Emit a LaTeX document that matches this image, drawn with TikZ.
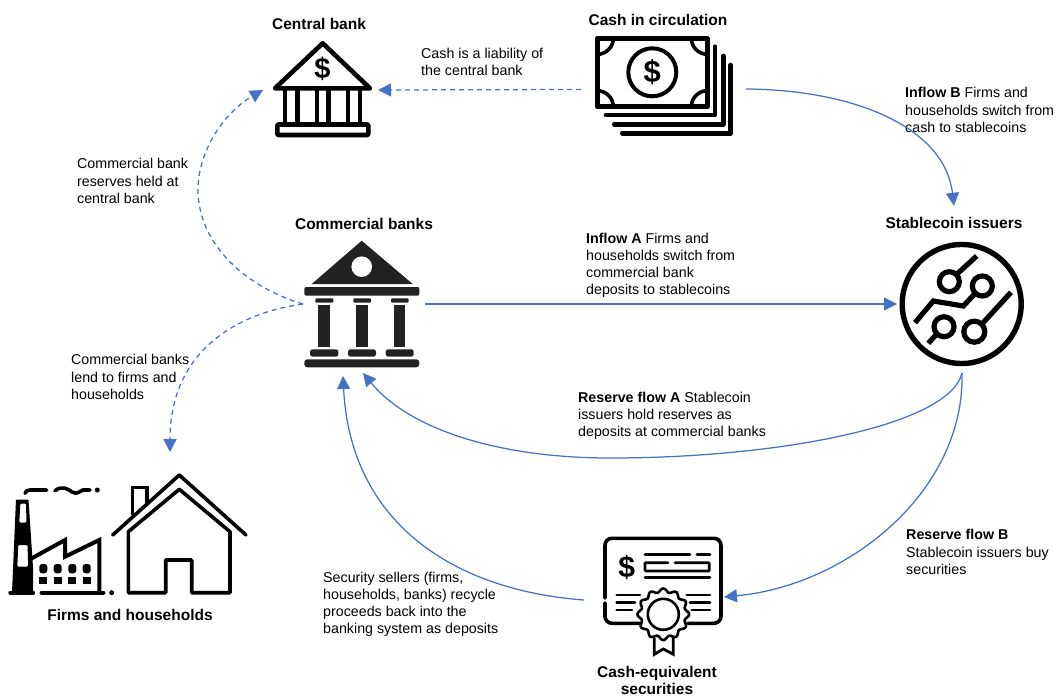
\documentclass[tikz,border=0pt]{standalone}
\usepackage{fontspec}
\setmainfont{Liberation Sans}
\usetikzlibrary{arrows.meta,calc}
\definecolor{flow}{HTML}{4472C4}
\definecolor{ink}{HTML}{000000}
\definecolor{dark}{HTML}{222222}
\tikzset{
  x=1pt,y=-1pt,
  flowline/.style={draw=flow,line width=1.25pt,-{Triangle[length=13pt,width=13pt]}},
  flowdash/.style={flowline,dash pattern=on 5pt off 4pt},
  label/.style={anchor=west,align=left,inner sep=0pt,font=\fontsize{14.25}{17.2}\selectfont},
  title/.style={anchor=center,align=center,inner sep=0pt,font=\fontsize{15.5}{17.4}\selectfont\bfseries},
  iconbox/.style={inner sep=0pt,outer sep=0pt,draw=none},
  icon/.style={draw=ink,line width=4.6pt,line join=round},
  thin icon/.style={draw=ink,line width=3.6pt},
}
\begin{document}
\begin{tikzpicture}
\useasboundingbox (0,0) rectangle (1057,696);
% anchor boxes for the icons
\node[iconbox,minimum width=115pt,minimum height=100pt] (central) at (320.5,90) {};
\node[iconbox,minimum width=165pt,minimum height=100pt] (cash) at (663.5,89.5) {};
\node[iconbox,minimum width=122pt,minimum height=142pt] (banks) at (364,304) {};
\node[iconbox,minimum width=130pt,minimum height=138pt] (stable) at (962,304) {};
\node[iconbox,minimum width=250pt,minimum height=150pt] (firms) at (125,527) {};
\node[iconbox,minimum width=140pt,minimum height=120pt] (sec) at (654,598) {};
% titles
\node[title] (tcentral) at (319,24) {Central bank};
\node[title] (tcash) at (658,20) {Cash in circulation};
\node[title] (tbanks) at (364,224) {Commercial banks};
\node[title,minimum height=34pt] (tstable) at (954,223) {Stablecoin issuers};
\node[title] (tfirms) at (130,615) {Firms and households};
\node[title] (tsec) at (657,680.5) {Cash-equivalent\\securities};
% labels
\node[label] (l1) at (421,62) {Cash is a liability of\\the central bank};
\node[label] (l2) at (905,110) {\textbf{Inflow B} Firms and\\households switch from\\cash to stablecoins};
\node[label] (l3) at (77,181) {Commercial bank\\reserves held at\\central bank};
\node[label] (l4) at (586,265.5) {\textbf{Inflow A} Firms and\\households switch from\\commercial bank\\deposits to stablecoins};
\node[label] (l5) at (71,377) {Commercial banks\\lend to firms and\\households};
\node[label] (l6) at (578,416) {\textbf{Reserve flow A} Stablecoin\\issuers hold reserves as\\deposits at commercial banks};
\node[label] (l7) at (906,552) {\textbf{Reserve flow B}\\Stablecoin issuers buy\\securities};
\node[label] (l8) at (323,604.5) {Security sellers (firms,\\households, banks) recycle\\proceeds back into the\\banking system as deposits};
% connectors
\draw[flowdash] (cash.west) -- (central.east);
\draw[flowline] ([yshift=0.5pt]cash.east) .. controls (860,90) and (945,130) .. (tstable.north);
\draw[flowdash] (banks.west) .. controls (240,285) and (198,240) .. (198,190) .. controls (198,150) and (225,112) .. (central.west);
\draw[flowdash] (banks.west) .. controls (225,315) and (170,360) .. ([xshift=45pt]firms.north);
\draw[flowline] (banks.east) -- (stable.west);
\draw[flowline] (stable.south) .. controls (950,425) and (780,458) .. (610,458) .. controls (500,458) and (410,430) .. ([xshift=-1pt,yshift=2pt]banks.south);
\draw[flowline] (stable.south) .. controls (965,490) and (850,585) .. ([yshift=1pt]sec.east);
\draw[flowline] ([yshift=-2pt]sec.west) .. controls (450,590) and (350,520) .. ([xshift=-21pt,yshift=-1pt]banks.south);
% central bank icon
\draw[icon] (275,88.3) -- (322.7,43.3) -- (370,88.3) -- cycle;
\foreach \c in {285,297.3,316.7,328.3,347.7,360} \draw[ink,line width=4.4pt] (\c,88) -- (\c,124);
\draw[icon,rounded corners=1pt] (277.3,124.5) rectangle (368.3,135);
\node[inner sep=0pt,font=\fontsize{29}{29}\selectfont\bfseries] (dollarA) at (322.5,68.5) {\$};
% cash icon
\draw[icon] (597.3,38.3) rectangle (707.3,106.7);
\begin{scope}[ink,line width=3.6pt]
\draw (597.3,54.3) .. controls (606,54.3) and (613.3,47) .. (613.3,38.3);
\draw (691.3,38.3) .. controls (691.3,47) and (698.6,54.3) .. (707.3,54.3);
\draw (597.3,90.7) .. controls (606,90.7) and (613.3,98) .. (613.3,106.7);
\draw (691.3,106.7) .. controls (691.3,98) and (698.6,90.7) .. (707.3,90.7);
\end{scope}
\draw[ink,line width=4pt] (652.3,72.3) circle[radius=24];
\node[inner sep=0pt,font=\fontsize{31}{31}\selectfont\bfseries] (dollarB) at (652.3,72) {\$};
\draw[icon,line cap=round] (715,46.7) -- (715,115) -- (606,115);
\draw[icon,line cap=round] (723.3,56) -- (723.3,124.3) -- (614.3,124.3);
\draw[icon,line cap=round] (730.7,65) -- (730.7,133.3) -- (622.3,133.3);
% commercial bank icon
\fill[dark] (361.7,240.7) -- (412.7,284) -- (311.7,284) -- cycle;
\fill[white] (361.7,266.7) circle[radius=10.3];
\fill[dark,rounded corners=2pt] (304.3,287) -- (419.3,287) -- (419.3,295.7) -- (304.3,295.7) -- cycle;
\foreach \a/\b in {315.3/333.3,353.3/371,391/408.7} \fill[dark,rounded corners=1pt] (\a,298.3) rectangle (\b,302.7);
\foreach \a/\b in {318.3/330,356/367.7,393.7/405.3} \fill[dark] (\a,305.3) rectangle (\b,346.7);
\foreach \a/\b in {310/338.3,348/376,385.7/413.7} \fill[dark,rounded corners=2.5pt] (\a,356.7) -- (\a,349.3) -- (\b,349.3) -- (\b,356.7) -- cycle;
\fill[dark,rounded corners=3pt] (304.3,359.3) -- (419.3,359.3) -- (419.3,367.3) -- (304.3,367.3) -- cycle;
% stablecoin icon
\draw[ink,line width=5.4pt] (961.7,304) circle[radius=59.5];
\begin{scope}[ink,line width=5.2pt]
\draw (949.3,281.7) circle[radius=10];
\draw (956.5,274.5) -- (976.7,256);
\draw (982.3,286) circle[radius=10];
\draw (975.5,293) -- (963.3,306) -- (933.3,301) -- (915,322.7);
\draw (944,326.7) circle[radius=10];
\draw (937,333.7) -- (928.3,343.3);
\draw (974.3,331.7) circle[radius=10.5];
\draw (981.5,324.5) -- (1011,292.3);
\end{scope}
% factory and house icon
\fill[ink,even odd rule,rounded corners=1pt] (16,499.5) -- (28.5,499.5) -- (33,567) -- (33,592.7) -- (12,592.7) -- cycle
  (20.3,503.5) -- (26,503.5) -- (26.5,522.5) -- (19.3,522.5) -- cycle
  (18.3,545) -- (27.5,545) -- (28.2,566.5) -- (17.3,566.5) -- cycle;
\draw[ink,line width=4.4pt,line cap=round] (10.5,592.7) -- (33,592.7);
\draw[thin icon,line width=4pt,line join=miter] (30,559.3) -- (65,540) -- (65,556.7) -- (99.3,540) -- (99.3,592.7);
\draw[ink,line width=4.4pt,line cap=round] (41.7,592.7) -- (103.3,592.7);
\fill[ink] (111.7,592.7) circle[radius=2.5];
\foreach \c in {43.3,57.7,72.3,86.7} {
  \fill[ink,rounded corners=2.8pt] (\c-4,573.3) -- (\c-4,564) -- (\c+4,564) -- (\c+4,573.3) -- cycle;
  \fill[ink] (\c-4,576.7) rectangle (\c+4,584.3);
}
\draw[ink,line width=3.6pt,line cap=round] (25,493.3) .. controls (26,491) and (27,490) .. (30,490) -- (46.7,490);
\draw[ink,line width=3.6pt,line cap=round] (55,490.7) .. controls (62,485) and (68,489) .. (72,492) .. controls (77,495) and (80,491) .. (83,490) .. controls (86,489) and (88,491) .. (90,490);
\fill[ink] (97.3,490) circle[radius=2.5];
\draw[thin icon,line cap=round,line join=round] (112.7,535) -- (179.3,475) -- (246,535);
\draw[thin icon,line join=round] (128.3,592.7) -- (128.3,531.7) -- (179.3,489.3) -- (230,531.7) -- (230,592.7) -- (191.7,592.7) -- (191.7,560) -- (165.7,560) -- (165.7,592.7) -- cycle;
\draw[thin icon] (132.3,515) -- (132.3,487.3) -- (146.7,487.3) -- (146.7,503);
% certificate icon
\draw[thin icon,line cap=round,rounded corners=7pt] (605,598) -- (605,538.3) -- (721,538.3) -- (721,623.3) -- (688,623.3);
\draw[thin icon,line cap=round,rounded corners=7pt] (605,603) -- (605,623.3) -- (640,623.3);
\node[inner sep=0pt,font=\fontsize{30}{30}\selectfont\bfseries] (dollarC) at (626.7,567) {\$};
\begin{scope}[ink,line width=2.8pt,line cap=round]
\draw (645,554.3) -- (690,554.3);
\draw (697,554.3) -- (710,554.3);
\draw[rounded corners=1pt] (668,562.7) -- (645,562.7) -- (645,571) -- (709.3,571) -- (709.3,562.7) -- (675,562.7);
\draw (645,577.7) -- (710,577.7);
\draw (616.7,595) -- (640,595);
\draw (616.7,602.3) -- (635,602.3);
\draw (616.7,610) -- (632,610);
\draw (686.7,595) -- (710,595);
\draw (690,602.3) -- (710,602.3);
\draw (691.7,610) -- (710,610);
\end{scope}
\draw[ink,line width=2.6pt] (663.3,614.3) circle[radius=15.5];
\draw[ink,line width=2.6pt,fill=none] plot[domain=0:360,samples=145,smooth,variable=\t] ({663.3+(24+1.8*cos(12*\t))*cos(\t)},{614.3+(24+1.8*cos(12*\t))*sin(\t)}) -- cycle;
\draw[ink,line width=2.8pt,line join=miter] (654.3,638) -- (654.3,654.3) -- (663.3,649) -- (673.3,654.3) -- (673.3,638);
\end{tikzpicture}
\end{document}
